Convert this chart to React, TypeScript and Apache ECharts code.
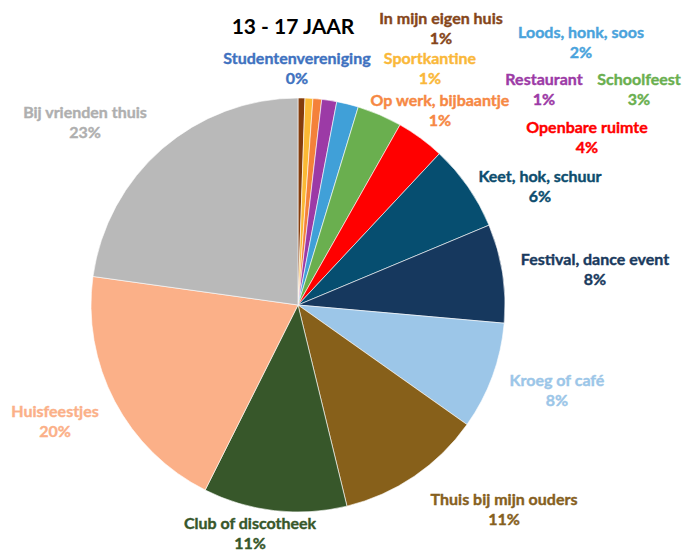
import React, { useEffect, useRef } from "react";
import * as echarts from "echarts";

const categories = [
  "Studentenvereniging",
  "In mijn eigen huis",
  "Sportkantine",
  "Op werk, bijbaantje",
  "Restaurant",
  "Loods, honk, soos",
  "Schoolfeest",
  "Openbare ruimte",
  "Keet, hok, schuur",
  "Festival, dance event",
  "Kroeg of café",
  "Thuis bij mijn ouders",
  "Club of discotheek",
  "Huisfeestjes",
  "Bij vrienden thuis",
];

// slice sizes (share of the circle, %)
const values = [0, 0.54, 0.61, 0.68, 1.17, 1.7, 3.5, 3.76, 6.74, 7.7, 8.4, 11.4, 11.2, 19.8, 22.8];

// percentages printed in the labels
const pctLabels = ["0%", "1%", "1%", "1%", "1%", "2%", "3%", "4%", "6%", "8%", "8%", "11%", "11%", "20%", "23%"];

const sliceColors = [
  "#4472C4", "#843C0C", "#FBB934", "#F4813A", "#9C3AA6", "#40A0D8", "#6AAF4F", "#FF0000",
  "#064E70", "#16385E", "#9CC6E8", "#87601A", "#37572A", "#FBB088", "#B9B9B9",
];

const labelColors = [
  "#3F72C0", "#86461A", "#FAB83A", "#F68844", "#9C3AA6", "#4AA3DC", "#6AAF4F", "#FF0000",
  "#0D4D6E", "#1A3A5E", "#9CC6E8", "#86601E", "#37572A", "#FBB088", "#AFAFAF",
];

// label centres (layout)
const labelPos: [number, number][] = [
  [297, 67], [441, 27], [430, 67], [440, 109], [544, 88], [581, 41], [639, 88], [587, 136],
  [540, 185], [595, 268], [557, 389], [504, 508], [250, 532], [55, 420], [85, 121],
];

export default function App() {
  const ref = useRef<HTMLDivElement>(null);
  useEffect(() => {
    document.body.style.margin = "0";
    const chart = echarts.init(ref.current!, undefined, { renderer: "svg" });
    chart.setOption({
      animation: false,
      backgroundColor: "#ffffff",
      title: {
        text: "13 - 17 JAAR",
        left: 288,
        top: 10,
        textAlign: "center",
        textStyle: { fontFamily: "Lato", fontWeight: "bold", fontSize: 21, color: "#000" },
      },
      series: [
        {
          type: "pie",
          center: [298, 305],
          radius: 207,
          startAngle: 90,
          clockwise: true,
          avoidLabelOverlap: false,
          itemStyle: { borderColor: "#ffffff", borderWidth: 0.6 },
          label: {
            show: true,
            position: "outside",
            fontFamily: "Lato",
            fontWeight: "bold",
            fontSize: 16,
            lineHeight: 20,
            align: "center",
            formatter: (p: any) => `${p.name}\n${pctLabels[p.dataIndex]}`,
          },
          labelLine: { show: false },
          labelLayout: (p: any) => ({
            x: labelPos[p.dataIndex][0],
            y: labelPos[p.dataIndex][1],
            align: "center",
            verticalAlign: "middle",
          }),
          emphasis: { disabled: true },
          data: categories.map((c, i) => ({
            name: c,
            value: values[i],
            itemStyle: { color: sliceColors[i] },
            label: { color: labelColors[i], textBorderColor: labelColors[i], textBorderWidth: 0.4 },
          })),
        },
      ],
    });
    return () => chart.dispose();
  }, []);
  return <div ref={ref} style={{ width: 682, height: 551 }} />;
}
